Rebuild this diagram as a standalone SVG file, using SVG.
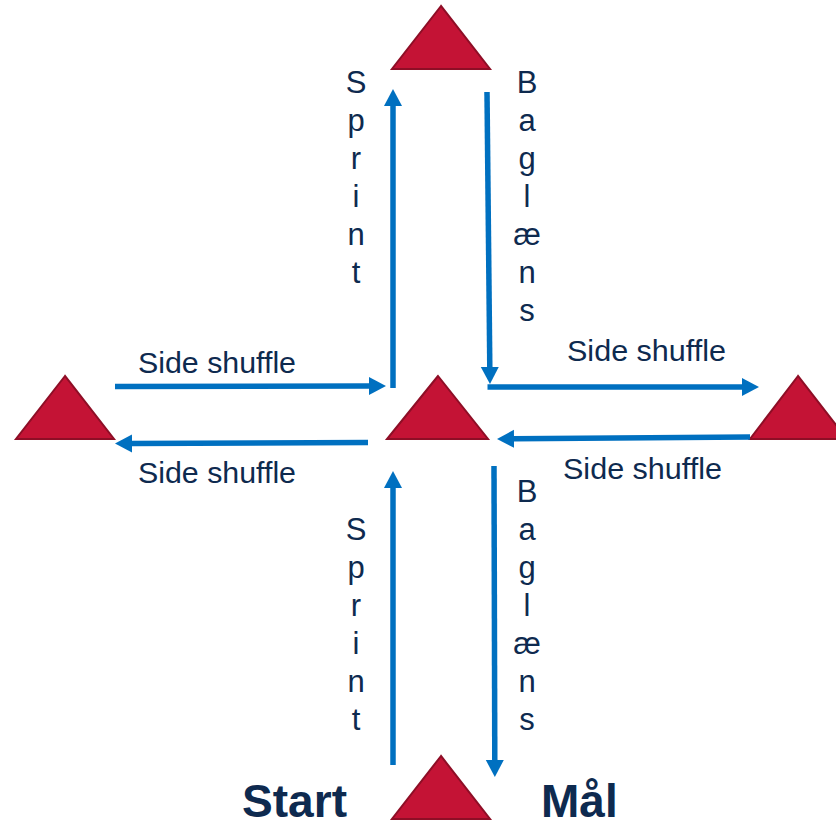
<svg xmlns="http://www.w3.org/2000/svg" width="836" height="826" viewBox="0 0 836 826">
<defs>
<style>
.cone{fill:#C41335;stroke:#8E0E26;stroke-width:2;stroke-linejoin:miter}
.arr{fill:none;stroke:#0070C0;stroke-width:5.5}
.lbl{font-family:"Liberation Sans",Arial,sans-serif;font-size:30px;fill:#0E2A4F}
.vt{font-family:"Liberation Sans",Arial,sans-serif;font-size:31px;fill:#0E2A4F;text-anchor:middle}
.big{font-family:"Liberation Sans",Arial,sans-serif;font-size:46px;font-weight:bold;fill:#0E2A4F}
</style>
<marker id="ah" markerUnits="userSpaceOnUse" markerWidth="18" markerHeight="20" viewBox="0 -10 18 20" refX="0" refY="0" orient="auto">
<path d="M0,-9 L17,0 L0,9 z" fill="#0070C0"/>
</marker>
</defs>
<rect width="836" height="826" fill="#FFFFFF"/>
<g id="cone-top"><polygon class="cone" points="441,6 392,69 490,69"/></g>
<g id="cone-center"><polygon class="cone" points="438,376 387,439 488,439"/></g>
<g id="cone-left"><polygon class="cone" points="65,376 16,439 114,439"/></g>
<g id="cone-right"><polygon class="cone" points="798,376 750,439 847,439"/></g>
<g id="cone-bottom"><polygon class="cone" points="441,756 392,819 490,819"/></g>
<g id="connectors">
<line class="arr" x1="393" y1="388" x2="393" y2="106" marker-end="url(#ah)"/>
<line class="arr" x1="487" y1="92" x2="489.8" y2="367" marker-end="url(#ah)"/>
<line class="arr" x1="487.5" y1="387" x2="742" y2="387" marker-end="url(#ah)"/>
<line class="arr" x1="115" y1="386.5" x2="369" y2="386" marker-end="url(#ah)"/>
<line class="arr" x1="368" y1="442.5" x2="132" y2="443.5" marker-end="url(#ah)"/>
<line class="arr" x1="750" y1="437" x2="514" y2="438.8" marker-end="url(#ah)"/>
<line class="arr" x1="393" y1="765" x2="393" y2="488" marker-end="url(#ah)"/>
<line class="arr" x1="494" y1="466" x2="494.8" y2="760" marker-end="url(#ah)"/>
</g>
<g id="labels">
<text class="lbl" x="138" y="373" textLength="158" lengthAdjust="spacingAndGlyphs">Side shuffle</text>
<text class="lbl" x="567" y="361" textLength="159" lengthAdjust="spacingAndGlyphs">Side shuffle</text>
<text class="lbl" x="138" y="483" textLength="158" lengthAdjust="spacingAndGlyphs">Side shuffle</text>
<text class="lbl" x="563" y="479" textLength="159" lengthAdjust="spacingAndGlyphs">Side shuffle</text>
<text class="vt"><tspan x="356" y="93">S</tspan><tspan x="356" y="131">p</tspan><tspan x="356" y="169">r</tspan><tspan x="356" y="207">i</tspan><tspan x="356" y="245">n</tspan><tspan x="356" y="283">t</tspan></text>
<text class="vt"><tspan x="527" y="93">B</tspan><tspan x="527" y="131">a</tspan><tspan x="527" y="169">g</tspan><tspan x="527" y="207">l</tspan><tspan x="527" y="245">æ</tspan><tspan x="527" y="283">n</tspan><tspan x="527" y="321">s</tspan></text>
<text class="vt"><tspan x="356" y="540">S</tspan><tspan x="356" y="578">p</tspan><tspan x="356" y="616">r</tspan><tspan x="356" y="654">i</tspan><tspan x="356" y="692">n</tspan><tspan x="356" y="730">t</tspan></text>
<text class="vt"><tspan x="527" y="502">B</tspan><tspan x="527" y="540">a</tspan><tspan x="527" y="578">g</tspan><tspan x="527" y="616">l</tspan><tspan x="527" y="654">æ</tspan><tspan x="527" y="692">n</tspan><tspan x="527" y="730">s</tspan></text>
<text class="big" x="242" y="817" textLength="105" lengthAdjust="spacingAndGlyphs">Start</text>
<text class="big" x="541" y="817">Mål</text>
</g>
</svg>
